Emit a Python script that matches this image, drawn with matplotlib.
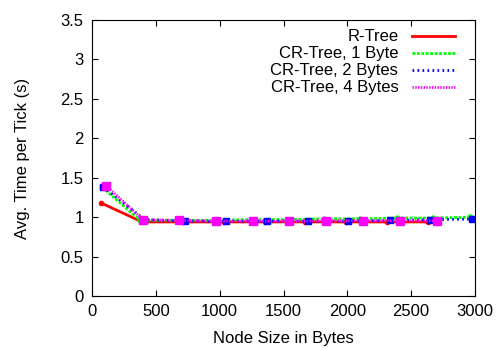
import matplotlib
matplotlib.use("Agg")
import matplotlib.pyplot as plt

plt.rcParams['font.family'] = ['Liberation Sans', 'DejaVu Sans']

rtree_x = [72, 392, 712, 1032, 1352, 1672, 1992, 2312, 2632]
rtree_y = [1.18, 0.94, 0.94, 0.94, 0.94, 0.94, 0.94, 0.94, 0.94]

cr1_x = [80, 376, 670, 963, 1253, 1530, 1817, 2100, 2388, 2670, 2960]
cr1_y = [1.38, 0.96, 0.96, 0.96, 0.97, 0.97, 0.98, 0.98, 0.99, 0.99, 1.00]

cr2_x = [90, 410, 728, 1049, 1370, 1691, 2005, 2333, 2647, 2976]
cr2_y = [1.38, 0.97, 0.95, 0.95, 0.95, 0.95, 0.95, 0.96, 0.97, 0.975]

cr4_x = [110, 400, 681, 971, 1260, 1543, 1832, 2122, 2412, 2701]
cr4_y = [1.40, 0.97, 0.96, 0.95, 0.95, 0.95, 0.955, 0.955, 0.955, 0.955]

labels = ["R-Tree", "CR-Tree, 1 Byte", "CR-Tree, 2 Bytes", "CR-Tree, 4 Bytes"]

fig = plt.figure(figsize=(5, 3.5), dpi=100)
ax = fig.add_axes([0.184, 0.154, 0.766, 0.789])

ax.plot(rtree_x, rtree_y, color='#ff0000', lw=2, marker='o', ms=3, label=labels[0])
ax.plot(cr1_x, cr1_y, color='#00ff00', lw=2, ls=(0, (1, 0.6)), marker='o', ms=3.5, label=labels[1])
ax.plot(cr2_x, cr2_y, color='#0000ff', lw=2, ls=(0, (0.6, 1.2)), marker='s', ms=4, label=labels[2])
ax.plot(cr4_x, cr4_y, color='#ff00ff', lw=2, ls=(0, (0.5, 0.5)), marker='s', ms=5.5, label=labels[3])

ax.set_xlim(0, 3000)
ax.set_ylim(0, 3.5)
ax.set_xticks(range(0, 3001, 500))
ax.set_yticks([0, 0.5, 1, 1.5, 2, 2.5, 3, 3.5])
ax.set_yticklabels(['0', '0.5', '1', '1.5', '2', '2.5', '3', '3.5'])
ax.tick_params(direction='in', top=True, right=True, labelsize=12, length=4, pad=6)
ax.set_xlabel("Node Size in Bytes", fontsize=12, labelpad=8)
ax.set_ylabel("Avg. Time per Tick (s)", fontsize=12, labelpad=22)

leg = ax.legend(loc='upper right', frameon=False, fontsize=12, markerfirst=False,
                handlelength=2.6, handletextpad=0.8, labelspacing=0.12,
                borderaxespad=0.0, bbox_to_anchor=(0.965, 0.99))
for h in leg.legend_handles:
    h.set_marker('')

fig.savefig("out.png", dpi=100)
